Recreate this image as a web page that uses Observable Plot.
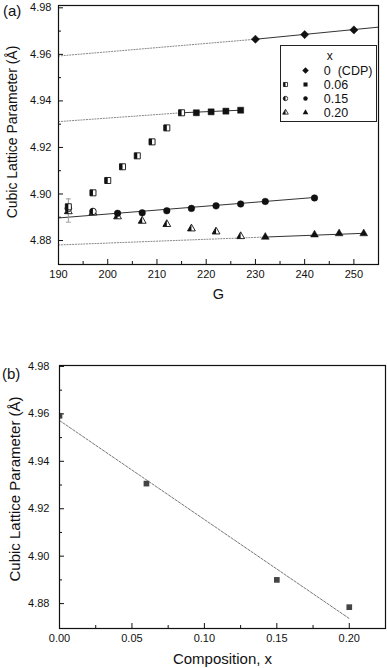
<!DOCTYPE html>
<html><head><meta charset="utf-8">
<script src="https://cdn.jsdelivr.net/npm/d3@7"></script>
<script src="https://cdn.jsdelivr.net/npm/@observablehq/plot@0.6"></script>
<style>
html,body{margin:0;padding:0;background:#fff;}
#wrap{position:relative;width:387px;height:668px;font-family:"Liberation Sans",Arial,sans-serif;overflow:hidden;}
.panel{position:absolute;left:0;}
.plabel{position:absolute;font-size:15px;line-height:15px;color:#111;}
#legend{position:absolute;left:280px;top:45px;width:95px;height:75px;border:1px solid #222;background:#fff;}
svg{overflow:visible;}
</style></head><body>
<div id="wrap">
  <div class="panel" id="top" style="top:0"></div>
  <div class="panel" id="bot" style="top:330px"></div>
  <div id="legend"></div>
  <div class="plabel" style="left:3px;top:3px">(a)</div>
  <div class="plabel" style="left:2px;top:366px">(b)</div>
</div>
<script>
// ---------- Panel (a) data ----------
const xTicksA = [190, 200, 210, 220, 230, 240, 250];
const xMinorA = [195, 205, 215, 225, 235, 245];
const yTicks = [4.88, 4.90, 4.92, 4.94, 4.96, 4.98];
const yMinor = [4.89, 4.91, 4.93, 4.95, 4.97];

const cdpG = [230, 240, 250];
const cdpA = [4.9665, 4.9685, 4.9705];
const x06OpenG = [192, 197, 200, 203, 206, 209, 212, 215];
const x06OpenA = [4.8945, 4.9005, 4.9058, 4.9117, 4.9164, 4.9224, 4.9284, 4.9349];
const x06G = [218, 221, 224, 227];
const x06A = [4.9349, 4.9353, 4.9356, 4.9360];
const x15OpenG = [192, 197];
const x15OpenA = [4.8938, 4.8925];
const x15G = [202, 207, 212, 217, 222, 227, 232, 242];
const x15A = [4.8917, 4.8919, 4.8928, 4.8938, 4.8949, 4.8957, 4.8968, 4.8983];
const x20OpenG = [192, 197, 202, 207, 212, 217, 222, 227];
const x20OpenA = [4.8925, 4.8920, 4.8903, 4.8884, 4.8870, 4.8851, 4.8838, 4.8818];
const x20G = [232, 242, 247, 252];
const x20A = [4.8815, 4.8825, 4.8830, 4.8830];
const errG = [192];
const errLow = [4.8879];
const errHigh = [4.8979];

// fit lines: [start, join, end] -> dotted start..join, solid join..end
const fitCdpG = [190, 230, 255];
const fitCdpA = [4.9593, 4.9665, 4.9717];
const fit06G = [190, 215, 227];
const fit06A = [4.9311, 4.9349, 4.9360];
const fit15G = [190, 190, 242];
const fit15A = [4.8897, 4.8897, 4.8985];
const fit20G = [190, 232, 252];
const fit20A = [4.8781, 4.8815, 4.8831];

// ---------- Panel (b) data ----------
const xTicksB = [0, 0.05, 0.10, 0.15, 0.20];
const xMinorB = [0.025, 0.075, 0.125, 0.175];
const comp = [0, 0.06, 0.15, 0.20];
const latt = [4.9592, 4.9306, 4.8900, 4.8785];
const fitComp = [0, 0.20];
const fitLatt = [4.9572, 4.8737];

// ---------- Legend data ----------
const legendKeys = ["0", "0.06", "0.15", "0.20"];
const legendLabels = ["0\u00a0\u00a0(CDP)", "0.06", "0.15", "0.20"];
const legendOpen = [null, "square", "circle", "triangle"];
const legendFilled = ["diamond2", "square", "circle", "triangle"];

// ---------- helpers ----------
const pts = (G, A) => G.map((g, i) => ({g, a: A[i]}));
const sqrt3 = Math.sqrt(3);
const halfSym = {
  square: {draw(c, size) { const s = Math.sqrt(size) / 2; c.moveTo(-s, -s); c.lineTo(0, -s); c.lineTo(0, s); c.lineTo(-s, s); c.closePath(); }},
  circle: {draw(c, size) { const r = Math.sqrt(size / Math.PI); c.moveTo(0, -r); c.arc(0, 0, r, -Math.PI / 2, Math.PI / 2, true); c.closePath(); }},
  triangle: {draw(c, size) { const y = -Math.sqrt(size / (sqrt3 * 3)); c.moveTo(0, y * 2); c.lineTo(sqrt3 * y, -y); c.lineTo(0, -y); c.closePath(); }}
};
const capSym = {draw(c, size) { const w = Math.sqrt(size) / 2; c.moveTo(-w, 0); c.lineTo(w, 0); }};
const ink = "#111";
const rOf = {square: 3.4, circle: 3.3, triangle: 2.9, diamond2: 3.7};

function openDots(data, sym) {
  return [
    Plot.dot(data, {x: "g", y: "a", symbol: sym, r: rOf[sym], fill: "white", stroke: ink, strokeWidth: 0.9}),
    Plot.dot(data, {x: "g", y: "a", symbol: halfSym[sym], r: rOf[sym], fill: ink})
  ];
}
function filledDots(data, sym) {
  return Plot.dot(data, {x: "g", y: "a", symbol: sym, r: rOf[sym], fill: ink, stroke: ink, strokeWidth: 0.5});
}
function fitMarks(G, A) {
  const d = pts(G, A);
  const m = [];
  if (G[0] !== G[1]) m.push(Plot.line(d.slice(0, 2), {x: "g", y: "a", stroke: "#888", strokeWidth: 1, strokeDasharray: "1.2,1.6"}));
  m.push(Plot.line(d.slice(1, 3), {x: "g", y: "a", stroke: "#333", strokeWidth: 1}));
  return m;
}
function axesMarks(xMajor, xMinor, fmtX, yPad) {
  return [
    Plot.axisX({ticks: xMajor, tickSize: 0, tickPadding: 6, tickFormat: fmtX, label: null, fontSize: 11}),
    Plot.axisX({ticks: xMajor, tickSize: -5, fill: "none", label: null, stroke: ink}),
    Plot.axisX({ticks: xMinor, tickSize: -3, fill: "none", label: null, stroke: ink}),
    Plot.axisY({ticks: yTicks, tickSize: 0, tickPadding: yPad, tickFormat: d3.format(".2f"), label: null, fontSize: 11}),
    Plot.axisY({ticks: yTicks, tickSize: -5, fill: "none", label: null, stroke: ink}),
    Plot.axisY({ticks: yMinor, tickSize: -3, fill: "none", label: null, stroke: ink})
  ];
}
const style = {fontFamily: "'Liberation Sans', Arial, sans-serif", fontSize: "11px", color: ink, background: "transparent", overflow: "visible"};

// ---------- Panel (a) ----------
const errData = errG.map((g, i) => ({g, lo: errLow[i], hi: errHigh[i]}));
const topPlot = Plot.plot({
  width: 387, height: 310,
  marginTop: 5, marginBottom: 46, marginLeft: 58, marginRight: 9,
  style,
  x: {domain: [190, 255]},
  y: {domain: [4.8697, 4.981]},
  marks: [
    ...axesMarks(xTicksA, xMinorA, d => String(d), 7),
    Plot.text(["G"], {frameAnchor: "bottom", dy: 30, fontSize: 14.5, lineAnchor: "middle"}),
    Plot.text(["Cubic Lattice Parameter (Å)"], {frameAnchor: "left", rotate: -90, dx: -45.5, dy: -3, fontSize: 14, lineAnchor: "middle", textAnchor: "middle"}),
    ...fitMarks(fitCdpG, fitCdpA),
    ...fitMarks(fit06G, fit06A),
    ...fitMarks(fit15G, fit15A),
    ...fitMarks(fit20G, fit20A),
    Plot.ruleX(errData, {x: "g", y1: "lo", y2: "hi", stroke: "#999", strokeWidth: 1}),
    Plot.dot(errData, {x: "g", y: "lo", symbol: capSym, r: 2.8, stroke: "#999", strokeWidth: 1}),
    Plot.dot(errData, {x: "g", y: "hi", symbol: capSym, r: 2.8, stroke: "#999", strokeWidth: 1}),
    ...openDots(pts(x20OpenG, x20OpenA), "triangle"),
    ...openDots(pts(x15OpenG, x15OpenA), "circle"),
    ...openDots(pts(x06OpenG, x06OpenA), "square"),
    filledDots(pts(x20G, x20A), "triangle"),
    filledDots(pts(x15G, x15A), "circle"),
    filledDots(pts(x06G, x06A), "square"),
    filledDots(pts(cdpG, cdpA), "diamond2"),
    Plot.frame({stroke: ink, strokeWidth: 1.2})
  ]
});
document.getElementById("top").appendChild(topPlot);

// ---------- Legend ----------
const legRows = legendKeys.map((k, i) => ({k, label: legendLabels[i], open: legendOpen[i], filled: legendFilled[i]}));
const lr = {square: 2.3, circle: 2.2, triangle: 2.1, diamond2: 2.9};
const legMarks = [
  Plot.text([{k: "hdr"}], {x: () => "filled", y: "k", text: () => "x", dx: 24.3, textAnchor: "middle", fontSize: 12})
];
for (const row of legRows) {
  legMarks.push(Plot.dot([row], {x: () => "filled", y: "k", symbol: row.filled, r: lr[row.filled], fill: ink}));
  if (row.open) {
    legMarks.push(Plot.dot([row], {x: () => "open", y: "k", symbol: row.open, r: lr[row.open], fill: "white", stroke: ink, strokeWidth: 0.8}));
    legMarks.push(Plot.dot([row], {x: () => "open", y: "k", symbol: halfSym[row.open], r: lr[row.open], fill: ink}));
  }
}
legMarks.push(Plot.text(legRows, {x: () => "filled", y: "k", text: "label", dx: 18.3, textAnchor: "start", fontSize: 12.5}));
const legPlot = Plot.plot({
  width: 95, height: 75, margin: 0,
  style,
  x: {type: "point", domain: ["open", "filled"], range: [3.5, 24], padding: 0, axis: null},
  y: {type: "point", domain: ["hdr", ...legendKeys], range: [9, 66], padding: 0, axis: null},
  marks: legMarks
});
document.getElementById("legend").appendChild(legPlot);

// ---------- Panel (b) ----------
const botPlot = Plot.plot({
  width: 387, height: 338,
  marginTop: 35, marginBottom: 40, marginLeft: 59, marginRight: 2,
  style,
  x: {domain: [0, 0.225]},
  y: {domain: [4.8695, 4.9804]},
  marks: [
    ...axesMarks(xTicksB, xMinorB, d3.format(".2f"), 10),
    Plot.text(["Composition, x"], {frameAnchor: "bottom", dy: 31, fontSize: 15, lineAnchor: "middle"}),
    Plot.text(["Cubic Lattice Parameter (Å)"], {frameAnchor: "left", rotate: -90, dx: -44.5, dy: -8, fontSize: 15, lineAnchor: "middle", textAnchor: "middle"}),
    Plot.line(pts(fitComp, fitLatt), {x: "g", y: "a", stroke: "#777", strokeWidth: 1, strokeDasharray: "2.5,1.5"}),
    Plot.dot(pts(comp, latt), {x: "g", y: "a", symbol: "square", r: 3.2, fill: "#444", clip: true}),
    Plot.frame({stroke: ink, strokeWidth: 1.2})
  ]
});
document.getElementById("bot").appendChild(botPlot);
</script>
</body></html>
